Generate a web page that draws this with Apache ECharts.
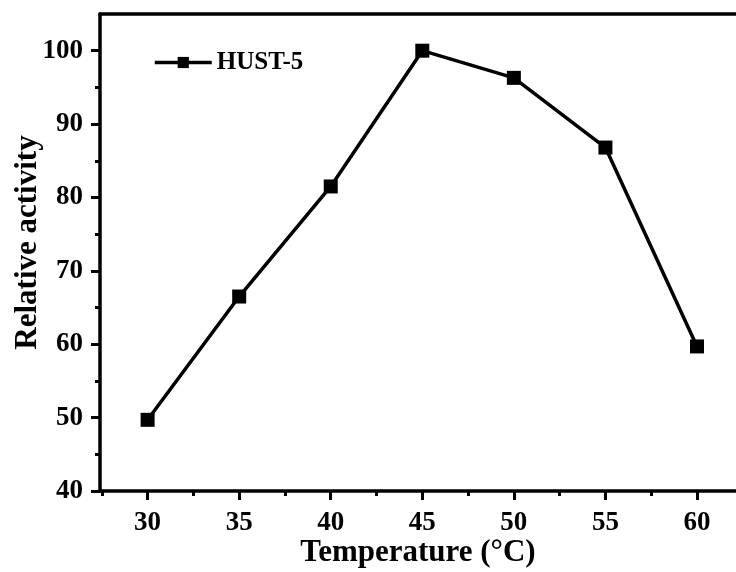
<!DOCTYPE html>
<html>
<head>
<meta charset="utf-8">
<script src="https://cdn.jsdelivr.net/npm/echarts@6/dist/echarts.min.js"></script>
<style>
  html, body { margin: 0; padding: 0; background: #fff; }
  #chart { width: 736px; height: 572px; }
</style>
</head>
<body>
<div id="chart"></div>
<script>
// Temperature profile of HUST-5 relative activity
const temperatures = [30, 35, 40, 45, 50, 55, 60];
const activity = [49.7, 66.5, 81.5, 100.0, 96.3, 86.8, 59.7];
const xMajorTicks = [30, 35, 40, 45, 50, 55, 60];
const xMinorTicks = [27.5, 32.5, 37.5, 42.5, 47.5, 52.5, 57.5, 62.5];
const yMajorTicks = [40, 50, 60, 70, 80, 90, 100];
const yMinorTicks = [45, 55, 65, 75, 85, 95];

const FONT = 'Liberation Serif';
const X_MIN = 27.4, X_MAX = 62.13;
const Y_MIN = 40, Y_MAX = 105;

const chart = echarts.init(document.getElementById('chart'), null, { renderer: 'canvas' });

const axisLine = { show: true, onZero: false, lineStyle: { color: '#000', width: 3.5 } };
const labelStyle = { color: '#000', fontFamily: FONT, fontWeight: 'bold', fontSize: 27 };

chart.setOption({
  animation: false,
  backgroundColor: '#fff',
  grid: { left: 100, right: 0, top: 14, bottom: 81, outerBoundsMode: 'none', containLabel: false },
  legend: {
    left: 153,
    top: 50,
    padding: 0,
    itemWidth: 57,
    itemHeight: 14,
    lineStyle: { width: 3.5, color: '#000' },
    textStyle: { color: '#000', fontFamily: FONT, fontWeight: 'bold', fontSize: 25 },
    data: ['HUST-5']
  },
  xAxis: [
    {
      type: 'value', position: 'bottom', min: X_MIN, max: X_MAX,
      axisLine: axisLine,
      axisTick: { show: true, inside: false, length: 9, customValues: xMajorTicks,
                  lineStyle: { color: '#000', width: 3 } },
      axisLabel: Object.assign({ margin: 19, customValues: xMajorTicks }, labelStyle),
      splitLine: { show: false },
      name: 'Temperature (°C)', nameLocation: 'middle', nameGap: 46, nameMoveOverlap: false,
      nameTextStyle: { color: '#000', fontFamily: FONT, fontWeight: 'bold', fontSize: 31 }
    },
    {
      type: 'value', position: 'bottom', min: X_MIN, max: X_MAX,
      axisLine: { show: false },
      axisTick: { show: true, inside: false, length: 5, customValues: xMinorTicks,
                  lineStyle: { color: '#000', width: 3 } },
      axisLabel: { show: false },
      splitLine: { show: false }
    },
    {
      type: 'value', position: 'top', min: X_MIN, max: X_MAX,
      axisLine: axisLine,
      axisTick: { show: false },
      axisLabel: { show: false },
      splitLine: { show: false }
    }
  ],
  yAxis: [
    {
      type: 'value', position: 'left', min: Y_MIN, max: Y_MAX,
      axisLine: axisLine,
      axisTick: { show: true, inside: false, length: 9, customValues: yMajorTicks,
                  lineStyle: { color: '#000', width: 3 } },
      axisLabel: Object.assign({ margin: 17, customValues: yMajorTicks }, labelStyle),
      splitLine: { show: false },
      name: 'Relative activity', nameLocation: 'middle', nameGap: 57, nameMoveOverlap: false,
      nameTextStyle: { color: '#000', fontFamily: FONT, fontWeight: 'bold', fontSize: 31,
                       padding: [0, 0, 0, 20] }
    },
    {
      type: 'value', position: 'left', min: Y_MIN, max: Y_MAX,
      axisLine: { show: false },
      axisTick: { show: true, inside: false, length: 5, customValues: yMinorTicks,
                  lineStyle: { color: '#000', width: 3 } },
      axisLabel: { show: false },
      splitLine: { show: false }
    }
  ],
  series: [
    {
      name: 'HUST-5',
      type: 'line',
      xAxisIndex: 0,
      yAxisIndex: 0,
      data: temperatures.map((t, i) => [t, activity[i]]),
      symbol: 'rect',
      symbolSize: 14,
      lineStyle: { color: '#000', width: 3.5 },
      itemStyle: { color: '#000' }
    }
  ]
});
</script>
</body>
</html>
